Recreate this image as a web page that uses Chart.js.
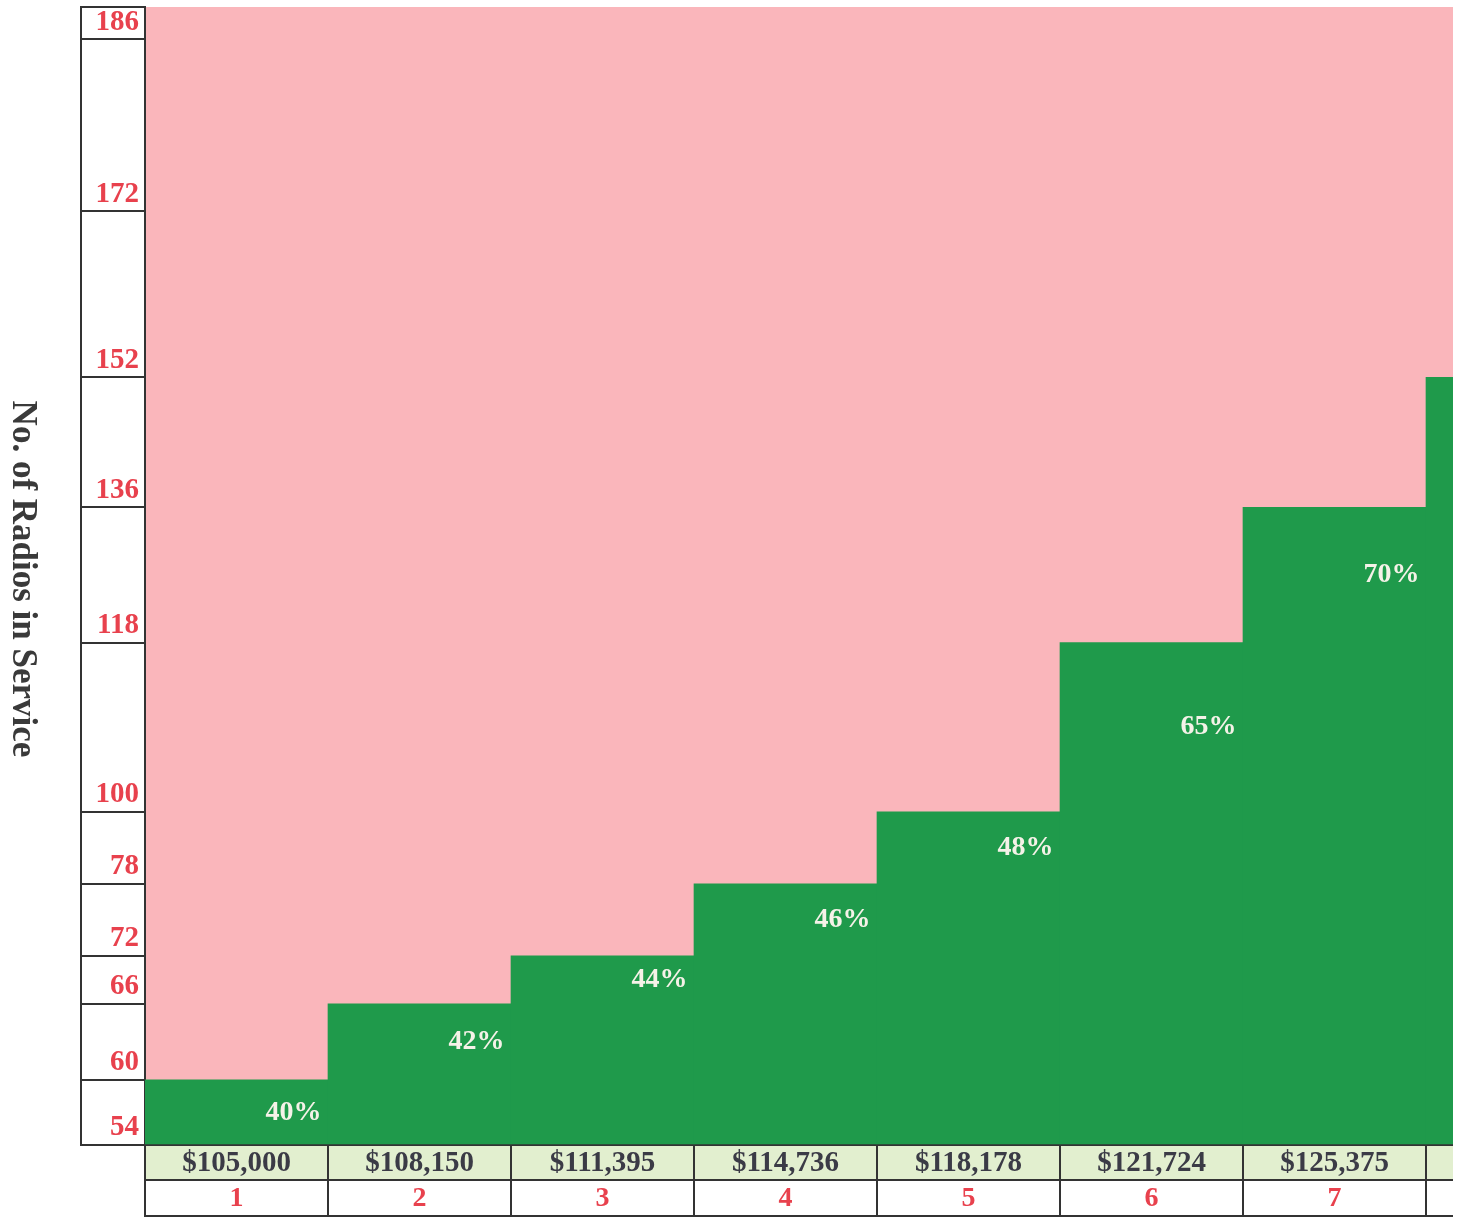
<!DOCTYPE html>
<html>
<head>
<meta charset="utf-8">
<title>No. of Radios in Service</title>
<script src="https://cdn.jsdelivr.net/npm/chart.js@4.4.1/dist/chart.umd.min.js"></script>
<style>
  html, body { margin: 0; padding: 0; background: #fff; overflow: hidden; }
  #wrap { width: 1453px; height: 1220px; overflow: hidden; }
  canvas { display: block; }
</style>
</head>
<body>
<div id="wrap"><canvas id="radiosChart" width="1609" height="1220"></canvas></div>
<script>
/* ── data ─────────────────────────────────────────────────── */
const salaries = ["$105,000", "$108,150", "$111,395", "$114,736", "$118,178", "$121,724", "$125,375", ""];
const steps    = ["1", "2", "3", "4", "5", "6", "7", ""];
const radios   = [54, 60, 66, 72, 78, 100, 118, 136];
const percents = ["40%", "42%", "44%", "46%", "48%", "65%", "70%", null];
const yTickValues = [54, 60, 66, 72, 78, 100, 118, 136, 152, 172, 186];

/* the y axis is hand drawn: cells are not evenly spaced (px, bottom to top) */
const cellHeights = [65, 76, 48, 72, 72, 169, 135, 130, 166, 172, 32];
const yBreaks = [0, ...yTickValues];

const RED   = "#e8414d";
const GREEN = "#1f9a4b";
const PINK  = "#fab6bb";
const LINE  = "#333333";
const SERIF = "'Liberation Serif', 'DejaVu Serif', serif";

/* ── piecewise linear scale, one segment per drawn cell ───── */
class PiecewiseScale extends Chart.LinearScale {
  static id = "piecewise";
  static defaults = Chart.LinearScale.defaults;

  buildTicks() {
    return yBreaks.map((v) => ({ value: v }));
  }

  getPixelForValue(v) {
    if (v === null || v === undefined || isNaN(v)) return NaN;
    const total = cellHeights.reduce((a, b) => a + b, 0);
    let acc = 0;
    for (let i = 0; i < cellHeights.length; i++) {
      const lo = yBreaks[i], hi = yBreaks[i + 1];
      if (v <= hi || i === cellHeights.length - 1) {
        const t = (v - lo) / (hi - lo);
        return this.getPixelForDecimal((acc + t * cellHeights[i]) / total);
      }
      acc += cellHeights[i];
    }
  }

  getValueForPixel(p) {
    const total = cellHeights.reduce((a, b) => a + b, 0);
    const d = this.getDecimalForPixel(p) * total;
    let acc = 0;
    for (let i = 0; i < cellHeights.length; i++) {
      if (d <= acc + cellHeights[i] || i === cellHeights.length - 1) {
        const t = (d - acc) / cellHeights[i];
        return yBreaks[i] + t * (yBreaks[i + 1] - yBreaks[i]);
      }
      acc += cellHeights[i];
    }
  }
}
Chart.register(PiecewiseScale);

/* ── plugins ──────────────────────────────────────────────── */
const backdrop = {
  id: "backdrop",
  beforeDraw(chart) {
    const { ctx, chartArea: a, scales: { x } } = chart;
    ctx.save();
    ctx.fillStyle = PINK;
    ctx.fillRect(a.left, a.top, a.right - a.left, a.bottom - a.top);
    ctx.fillStyle = "#e2efcf";
    ctx.fillRect(x.left, x.top, x.right - x.left, x.bottom - x.top);
    ctx.restore();
  },
};

const stepLabels = {
  id: "stepLabels",
  afterDatasetsDraw(chart) {
    const { ctx, scales: { y } } = chart;
    const meta = chart.getDatasetMeta(0);
    ctx.save();
    ctx.font = `bold 28px ${SERIF}`;
    ctx.fillStyle = "#f5f2e8";
    ctx.textAlign = "center";
    ctx.textBaseline = "middle";
    meta.data.forEach((bar, i) => {
      if (!percents[i]) return;
      const v = radios[i];
      const lower = yBreaks[yBreaks.indexOf(v) - 1];
      const mid = (y.getPixelForValue(v) + y.getPixelForValue(lower)) / 2;
      ctx.fillText(percents[i], bar.x + 57, mid);
    });
    ctx.restore();
  },
};

const frame = {
  id: "frame",
  afterDraw(chart) {
    const { ctx, scales: { y, x2 } } = chart;
    ctx.save();
    ctx.strokeStyle = LINE;
    ctx.lineWidth = 2;
    // left edge of the tick column
    const lx = y.right - 64;
    ctx.beginPath();
    ctx.moveTo(lx, y.top - 1);
    ctx.lineTo(lx, y.bottom + 1);
    // bottom edge of the step-number row
    ctx.moveTo(x2.left - 1, x2.bottom - 1);
    ctx.lineTo(x2.right, x2.bottom - 1);
    ctx.stroke();

    // axis title, reading top to bottom
    ctx.translate(22, (y.top + y.bottom) / 2 + 3);
    ctx.rotate(Math.PI / 2);
    ctx.font = `bold 35px ${SERIF}`;
    ctx.fillStyle = "#3a3a3a";
    ctx.textAlign = "center";
    ctx.textBaseline = "middle";
    ctx.fillText("No. of Radios in Service", 0, 0);
    ctx.restore();
  },
};

/* ── chart ────────────────────────────────────────────────── */
const ctx = document.getElementById("radiosChart").getContext("2d");

new Chart(ctx, {
  type: "bar",
  data: {
    labels: salaries,
    datasets: [
      {
        label: "No. of Radios in Service",
        data: radios,
        backgroundColor: GREEN,
        borderWidth: 0,
        barPercentage: 1,
        categoryPercentage: 1,
      },
    ],
  },
  options: {
    responsive: false,
    animation: false,
    layout: { padding: { top: 7, right: 0, bottom: 3, left: 0 } },
    plugins: {
      legend: { display: false },
      tooltip: { enabled: false },
    },
    scales: {
      x: {
        type: "category",
        position: "bottom",
        weight: 0,
        offset: true,
        grid: { offset: true, drawOnChartArea: false, tickLength: 35, color: LINE, lineWidth: 2 },
        border: { display: true, color: LINE, width: 2 },
        ticks: {
          autoSkip: false,
          maxRotation: 0,
          padding: -31,
          color: "#3b3b46",
          font: { family: SERIF, size: 29, weight: "bold", lineHeight: 1 },
        },
        afterFit: (s) => { s.height = 35; },
      },
      x2: {
        type: "category",
        position: "bottom",
        weight: 1,
        labels: steps,
        offset: true,
        grid: { offset: true, drawOnChartArea: false, tickLength: 37, color: LINE, lineWidth: 2 },
        border: { display: true, color: LINE, width: 2 },
        ticks: {
          autoSkip: false,
          maxRotation: 0,
          padding: -32,
          color: RED,
          font: { family: SERIF, size: 28, weight: "bold", lineHeight: 1 },
        },
        afterFit: (s) => { s.height = 37; },
      },
      y: {
        type: "piecewise",
        position: "left",
        min: 0,
        max: 186,
        grid: { drawOnChartArea: false, drawTicks: true, tickLength: 63, color: LINE, lineWidth: 2 },
        border: { display: true, color: LINE, width: 2 },
        ticks: {
          autoSkip: false,
          padding: -57,
          labelOffset: -17,
          color: RED,
          font: { family: SERIF, size: 29, weight: "bold", lineHeight: 1 },
          callback: (v, i) => (i < yTickValues.length ? String(yTickValues[i]) : ""),
        },
        afterFit: (s) => { s.width = 145; },
      },
    },
  },
  plugins: [backdrop, stepLabels, frame],
});
</script>
</body>
</html>
